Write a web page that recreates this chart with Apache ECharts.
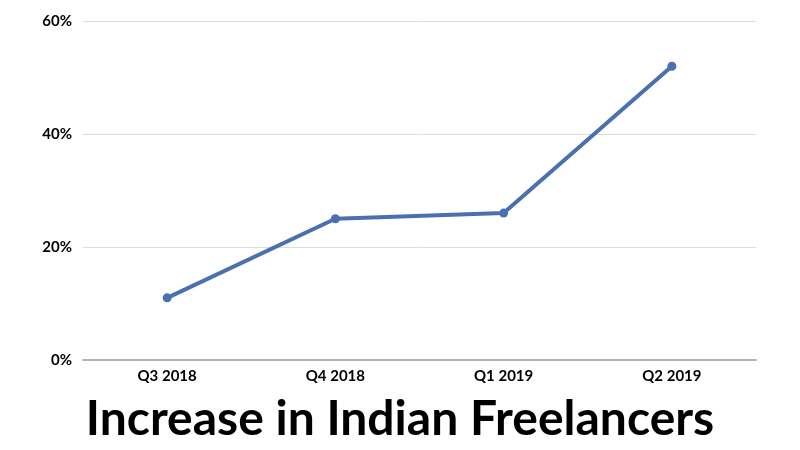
<!DOCTYPE html>
<html><head><meta charset="utf-8">
<script src="https://cdn.jsdelivr.net/npm/echarts@6/dist/echarts.min.js"></script>
<style>html,body{margin:0;padding:0;background:#fff}#c{width:800px;height:450px}</style>
</head><body><div id="c"></div>
<script>
const categories = ['Q3 2018', 'Q4 2018', 'Q1 2019', 'Q2 2019'];
const values = [11, 25, 26, 52];
const yTicks = [0, 20, 40, 60];
const titleText = 'Increase in Indian Freelancers';

const chart = echarts.init(document.getElementById('c'), null, {renderer: 'canvas'});
chart.setOption({
  backgroundColor: '#ffffff',
  animation: false,
  title: {
    text: titleText,
    left: 'center',
    top: 391,
    textStyle: {fontFamily: 'Lato', fontWeight: 'bold', fontSize: 48, color: '#000'}
  },
  grid: {left: 83, right: 44, top: 21, bottom: 90, containLabel: false},
  xAxis: {
    type: 'category',
    data: categories,
    boundaryGap: true,
    axisLine: {lineStyle: {color: '#b3b3b3', width: 2}},
    axisTick: {show: false},
    axisLabel: {fontFamily: 'Lato', fontWeight: 'bold', fontSize: 15, color: '#000', margin: 9}
  },
  yAxis: {
    type: 'value',
    min: yTicks[0], max: yTicks[yTicks.length - 1], interval: 20,
    axisLine: {show: false},
    axisTick: {show: false},
    splitLine: {lineStyle: {color: '#dcdcdc', width: 1}},
    axisLabel: {fontFamily: 'Lato', fontWeight: 'bold', fontSize: 15, color: '#000', margin: 11, formatter: '{value}%'}
  },
  series: [{
    type: 'line',
    data: values,
    symbol: 'circle',
    symbolSize: 9,
    lineStyle: {color: '#4a70b0', width: 4},
    itemStyle: {color: '#4a70b0'}
  }]
});
</script></body></html>
